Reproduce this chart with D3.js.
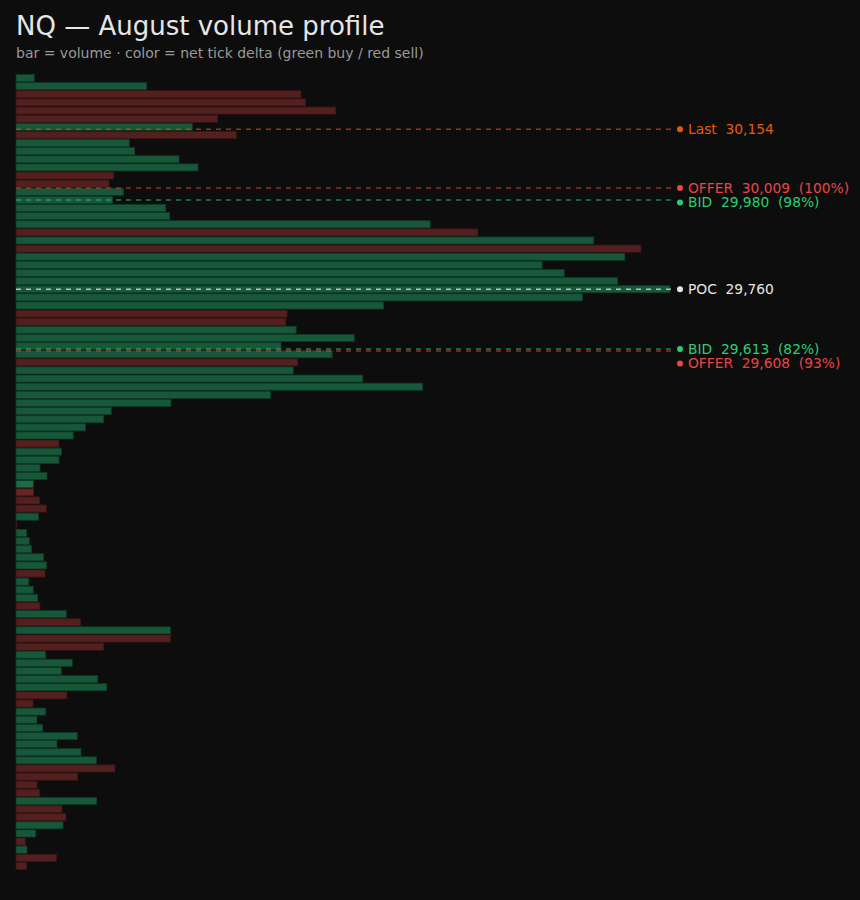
<!DOCTYPE html>
<html>
<head>
<meta charset="utf-8">
<script src="https://cdn.jsdelivr.net/npm/d3@7/dist/d3.min.js"></script>
<style>
  html, body { margin: 0; padding: 0; background: #0d0d0d; }
  svg { display: block; }
  text { font-family: "DejaVu Sans", sans-serif; }
</style>
</head>
<body>
<svg id="chart" width="860" height="900"></svg>
<script>
// Price bins (20-point rows), top to bottom
const priceTop = 30280;
const priceStep = 20;
// Volume per row (top -> bottom)
const volumes = [
  183, 1307, 2850, 2897, 3197, 2017, 1763, 2203, 1133, 1187,
  1630, 1820, 977, 930, 1073, 967, 1497, 1536, 4142, 4619,
  5777, 6250, 6089, 5261, 5482, 6015, 6540, 5664, 3674, 2711,
  2698, 2802, 3383, 2650, 3162, 2818, 2773, 3467, 4067, 2547,
  1550, 953, 877, 697, 573, 430, 453, 430, 240, 310,
  173, 177, 237, 303, 225, 7, 107, 133, 157, 277,
  307, 290, 127, 173, 217, 240, 503, 647, 1543, 1543,
  877, 297, 563, 453, 817, 907, 510, 170, 297, 210,
  267, 613, 410, 650, 803, 990, 617, 210, 237, 807,
  460, 500, 470, 197, 93, 110, 403, 107
];
// Net tick delta side: +1 buy, -1 sell, ±2 strong
const deltaSide = [
  1, 1, -1, -1, -1, -1, 1, -1, 1, 1,
  1, 1, -1, -1, 1, 1, 1, 1, 1, -1,
  1, -1, 1, 1, 1, 1, 1, 1, 1, -1,
  -1, 1, 1, 1, 1, -1, 1, 1, 1, 1,
  1, 1, 1, 1, 1, -1, 1, 1, 1, 1,
  2, -2, -1, -1, 1, -1, 1, 1, 1, 1,
  1, -1, 1, 1, 1, -1, 1, -1, 1, -1,
  -1, 1, 1, 1, 1, 1, -1, -1, 1, 1,
  1, 1, 1, 1, 1, -1, -1, -1, -1, 1,
  -1, -1, 1, 1, -1, 1, -1, -1
];
const prices = volumes.map((v, i) => priceTop - i * priceStep);

// Reference levels
const levelNames  = ["Last", "OFFER", "BID", "POC", "BID", "OFFER"];
const levelPrices = [30154, 30009, 29980, 29760, 29613, 29608];
const levelPcts   = [null, "100%", "98%", null, "82%", "93%"];
const levelColors = {Last: "#e8590c", OFFER: "#e84545", BID: "#2ecc71", POC: "#e6e6e6"};

const svg = d3.select("#chart");
svg.append("rect").attr("width", 860).attr("height", 900).attr("fill", "#0d0d0d");

svg.append("text").attr("x", 16).attr("y", 35)
  .attr("fill", "#e6e6e6").attr("font-size", 26)
  .text("NQ — August volume profile");
svg.append("text").attr("x", 16).attr("y", 58)
  .attr("fill", "#9a9a9a").attr("font-size", 14)
  .text("bar = volume · color = net tick delta (green buy / red sell)");

const x = d3.scaleLinear().domain([0, d3.max(volumes)]).range([16, 670]);
const y = d3.scaleLinear()
  .domain([priceTop + priceStep / 2, prices[prices.length - 1] - priceStep / 2])
  .range([74, 870]);

const fillFor = s => s >= 2 ? "#1c6d46" : s > 0 ? "#17573a" : s <= -2 ? "#6a2424" : "#53201f";
const strokeFor = s => s > 0 ? "#0f3b27" : "#3a1615";

svg.append("g").selectAll("rect")
  .data(prices)
  .join("rect")
  .attr("x", x(0))
  .attr("y", p => y(p + priceStep / 2) + 0.5)
  .attr("width", (p, i) => Math.max(0.7, x(volumes[i]) - x(0)))
  .attr("height", p => y(p - priceStep / 2) - y(p + priceStep / 2) - 1)
  .attr("fill", (p, i) => fillFor(deltaSide[i]))
  .attr("stroke", (p, i) => strokeFor(deltaSide[i]))
  .attr("stroke-width", 0.8);

// Level lines
const levels = levelNames.map((n, i) => ({
  name: n, price: levelPrices[i], pct: levelPcts[i], color: levelColors[n], ly: y(levelPrices[i])
}));
const lg = svg.append("g");
levels.forEach(d => {
  lg.append("line")
    .attr("x1", 16).attr("x2", 672)
    .attr("y1", d.ly).attr("y2", d.ly)
    .attr("stroke", d.color)
    .attr("stroke-opacity", d.name === "POC" ? 0.75 : 0.6)
    .attr("stroke-width", 1.5)
    .attr("stroke-dasharray", "5,5");
});

// Label placement avoiding overlap
const sorted = levels.slice().sort((a, b) => a.ly - b.ly);
let prev = -Infinity;
sorted.forEach(d => {
  d.ty = Math.max(d.ly, prev + 14.5);
  prev = d.ty;
});
const fmt = d3.format(",");
sorted.forEach(d => {
  lg.append("circle").attr("cx", 680).attr("cy", d.ty).attr("r", 3).attr("fill", d.color);
  const label = d.name + "  " + fmt(d.price) + (d.pct ? "  (" + d.pct + ")" : "");
  lg.append("text")
    .attr("x", 688).attr("y", d.ty)
    .attr("dy", "0.35em")
    .attr("font-size", 13.8)
    .attr("fill", d.color)
    .style("white-space", "pre")
    .text(label);
});
</script>
</body>
</html>
